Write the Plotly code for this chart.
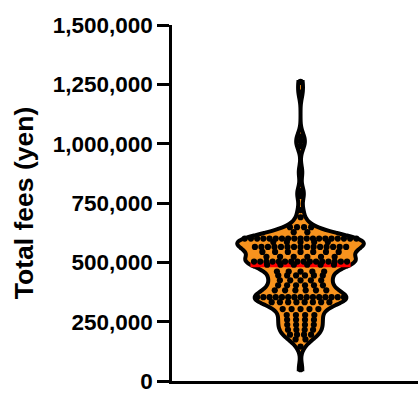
import numpy as np
import plotly.graph_objects as go

# ---- data ----
row_values = [1260000, 1215000, 1030000, 1010000, 990000, 880000, 800000, 780000, 720000, 690000,
              648000, 627000, 600000, 586000, 565000, 544000, 523000, 503000, 490000, 461000,
              445000, 424000, 403000, 382000, 353000, 332000, 303000, 278000, 258000, 237000,
              216000, 195000, 175000, 145000, 50000]
row_counts = [1, 1, 1, 1, 1, 1, 1, 1, 1, 1,
              4, 2, 19, 5, 15, 7, 6, 16, 6, 5,
              6, 5, 6, 6, 15, 8, 5, 4, 4, 4,
              4, 4, 2, 1, 1]
fees = np.repeat(row_values, row_counts).astype(float)

tick_vals = [0, 250000, 500000, 750000, 1000000, 1250000, 1500000]
tick_text = ["0", "250,000", "500,000", "750,000", "1,000,000", "1,250,000", "1,500,000"]
y_title = "Total fees (yen)"

# ---- layout constants ----
W, H = 418, 394
ML, MR, MT, MB = 172, 0, 25, 8
plot_w = W - ML - MR
plot_h = H - MT - MB
y_range = [0, 1500000]
x_range = [-1.045, 0.955]
px_per_x = plot_w / (x_range[1] - x_range[0])
px_per_y = plot_h / (y_range[1] - y_range[0])
bw = 27000
vwidth = 1.03
dot_d = 6.2


def kde(t):
    t = np.atleast_1d(np.asarray(t, dtype=float))
    return np.exp(-0.5 * ((t[:, None] - fees[None, :]) / bw) ** 2).sum(axis=1)


grid = np.linspace(fees.min(), fees.max(), 3000)
dmax = kde(grid).max()
half_px = lambda v: (vwidth / 2) * px_per_x * kde(v)[0] / dmax

# ---- dot offsets: each row of equal values spread across the violin ----
xs = np.zeros(len(fees))
start = 0
for v, n in zip(row_values, row_counts):
    hw = half_px(v)
    s = float(np.clip(1.6 * hw / n, dot_d, 2.2 * dot_d))
    offs = (np.arange(n) - (n - 1) / 2) * s
    xs[start:start + n] = offs / px_per_x
    start += n

med = float(np.median(fees))
half_med = half_px(med) / px_per_x

fig = go.Figure()
fig.add_trace(go.Violin(
    x=[0] * len(fees), y=fees, width=vwidth, bandwidth=bw, spanmode="hard",
    points=False, fillcolor="#F7931E", line=dict(color="black", width=4),
    box_visible=False, meanline_visible=False, hoverinfo="skip", showlegend=False,
))
fig.add_trace(go.Scatter(
    x=[-half_med, half_med], y=[med, med], mode="lines",
    line=dict(color="#FF0000", width=5), showlegend=False, hoverinfo="skip",
))
fig.add_trace(go.Scatter(
    x=xs, y=fees, mode="markers",
    marker=dict(color="black", size=dot_d, line=dict(width=0)),
    showlegend=False,
))

font = "Arial, 'Liberation Sans', Helvetica, sans-serif"
fig.update_layout(
    width=W, height=H, margin=dict(l=ML, r=MR, t=MT, b=MB),
    paper_bgcolor="white", plot_bgcolor="white",
    font=dict(family=font, color="black"),
    xaxis=dict(range=x_range, showline=True, linecolor="black", linewidth=2.5,
               showticklabels=False, ticks="", showgrid=False, zeroline=False, fixedrange=True),
    yaxis=dict(range=y_range, showline=True, linecolor="black", linewidth=2.5,
               ticks="outside", ticklen=12, tickwidth=2.5, tickcolor="black",
               tickvals=tick_vals, ticktext=tick_text, ticklabeloverflow="allow",
               tickfont=dict(size=22.5, family=font, weight="bold", color="black"),
               showgrid=False, zeroline=False,
               title=dict(text=y_title, font=dict(size=26.5, family=font, weight="bold"), standoff=12)),
)
fig.write_html("out.html")
